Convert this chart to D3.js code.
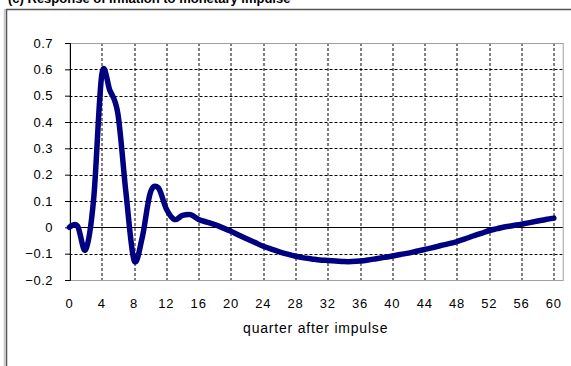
<!DOCTYPE html>
<html>
<head>
<meta charset="utf-8">
<script src="https://cdn.jsdelivr.net/npm/d3@7"></script>
<style>
  body { margin: 0; background: #fff; }
  svg { display: block; font-family: "Liberation Sans", Arial, sans-serif; }
</style>
</head>
<body>
<div id="chart"></div>
<script>
// chart size
const w = 571;
const h = 366;
const margin = {top: 43, right: 8.3, bottom: 86, left: 69.5};

// response by quarter after impulse
const quarters = d3.range(0, 61);
const response = [
  0, 0.005, -0.085, 0.11, 0.58, 0.52, 0.43, 0.13, -0.125, -0.04,
  0.13, 0.15, 0.07, 0.03, 0.045, 0.048, 0.03, 0.02, 0.01, -0.002,
  -0.015, -0.03, -0.044, -0.058, -0.072, -0.083, -0.093, -0.102, -0.11, -0.116,
  -0.12, -0.124, -0.126, -0.128, -0.13, -0.13, -0.128, -0.124, -0.119, -0.114,
  -0.109, -0.103, -0.098, -0.091, -0.084, -0.077, -0.069, -0.062, -0.054, -0.044,
  -0.033, -0.023, -0.012, -0.005, 0.002, 0.007, 0.012, 0.018, 0.024, 0.03,
  0.035
];
const yTicks = [-0.2, -0.1, 0, 0.1, 0.2, 0.3, 0.4, 0.5, 0.6, 0.7];
const xTicks = d3.range(0, 61, 4);
const titleText = "(c) Response of inflation to monetary impulse";
const xLabel = "quarter after impulse";

const svg = d3.select("#chart").append("svg")
  .attr("width", w)
  .attr("height", h);

// outer chart frame (only top and left edges are in view)
svg.append("line").attr("x1", 4.5).attr("x2", 4.5).attr("y1", 9).attr("y2", h)
  .attr("stroke", "#c8c8c8").attr("stroke-width", 1.5);
svg.append("line").attr("x1", 6.5).attr("x2", 6.5).attr("y1", 9).attr("y2", h)
  .attr("stroke", "#555").attr("stroke-width", 1.5);
svg.append("line").attr("x1", 6).attr("x2", w).attr("y1", 9.5).attr("y2", 9.5)
  .attr("stroke", "#555").attr("stroke-width", 1.5);

// title, cut off at the top like in the source
svg.append("text")
  .attr("x", 8).attr("y", 3)
  .style("font-size", "13px").style("font-weight", "bold")
  .text(titleText);

const pw = w - margin.left - margin.right;
const ph = h - margin.top - margin.bottom;

const x = d3.scaleLinear().domain([0, 61.1]).range([0, pw]);
const y = d3.scaleLinear().domain([-0.2, 0.7]).range([ph, 0]);

const g = svg.append("g")
  .attr("transform", "translate(" + margin.left + "," + margin.top + ")");

// dashed grid lines
g.append("g").selectAll("line")
  .data(yTicks.filter(d => d !== 0 && d !== -0.2 && d !== 0.7))
  .enter().append("line")
  .attr("x1", 0).attr("x2", pw)
  .attr("y1", d => Math.round(y(d)) + 0.5).attr("y2", d => Math.round(y(d)) + 0.5)
  .attr("stroke", "#000").attr("stroke-dasharray", "3,2");

g.append("g").selectAll("line")
  .data(xTicks.filter(d => d > 0))
  .enter().append("line")
  .attr("x1", d => Math.round(x(d)) + 0.5).attr("x2", d => Math.round(x(d)) + 0.5)
  .attr("y1", 0).attr("y2", ph)
  .attr("stroke", "#000").attr("stroke-dasharray", "3,2");

// plot area border
g.append("rect")
  .attr("x", 0.5).attr("y", 0.5)
  .attr("width", pw).attr("height", ph)
  .attr("fill", "none").attr("stroke", "#a0a0a0");

// zero line
g.append("line")
  .attr("x1", 0).attr("x2", pw)
  .attr("y1", Math.round(y(0)) + 0.5).attr("y2", Math.round(y(0)) + 0.5)
  .attr("stroke", "#000");

// y axis
const yAxis = g.append("g")
  .attr("transform", "translate(0.5,0)")
  .call(d3.axisLeft(y).tickValues(yTicks).tickSize(5).tickPadding(12)
    .tickFormat(d => d3.format("")(Math.round(d * 10) / 10)));
yAxis.select(".domain").attr("stroke", "#000");
yAxis.selectAll("text").style("font-size", "13px").attr("fill", "#000")
  .style("letter-spacing", "0.5px")
  .attr("font-family", null);

// x labels (no ticks drawn)
g.append("g").selectAll("text")
  .data(xTicks)
  .enter().append("text")
  .attr("x", d => x(d))
  .attr("y", ph + 28)
  .attr("text-anchor", "middle")
  .style("font-size", "13px")
  .style("letter-spacing", "0.8px")
  .text(d => d);

g.append("text")
  .attr("x", x(30) + 4)
  .attr("y", ph + 53)
  .attr("text-anchor", "middle")
  .style("font-size", "14px")
  .style("letter-spacing", "0.8px")
  .text(xLabel);

// the response line
const line = d3.line()
  .x((d, i) => x(quarters[i]))
  .y(d => y(d))
  .curve(d3.curveCatmullRom.alpha(0));

g.append("path")
  .datum(response)
  .attr("d", line)
  .attr("fill", "none")
  .attr("stroke", "#000080")
  .attr("stroke-width", 5.5)
  .attr("stroke-linejoin", "round")
  .attr("stroke-linecap", "round");
</script>
</body>
</html>
